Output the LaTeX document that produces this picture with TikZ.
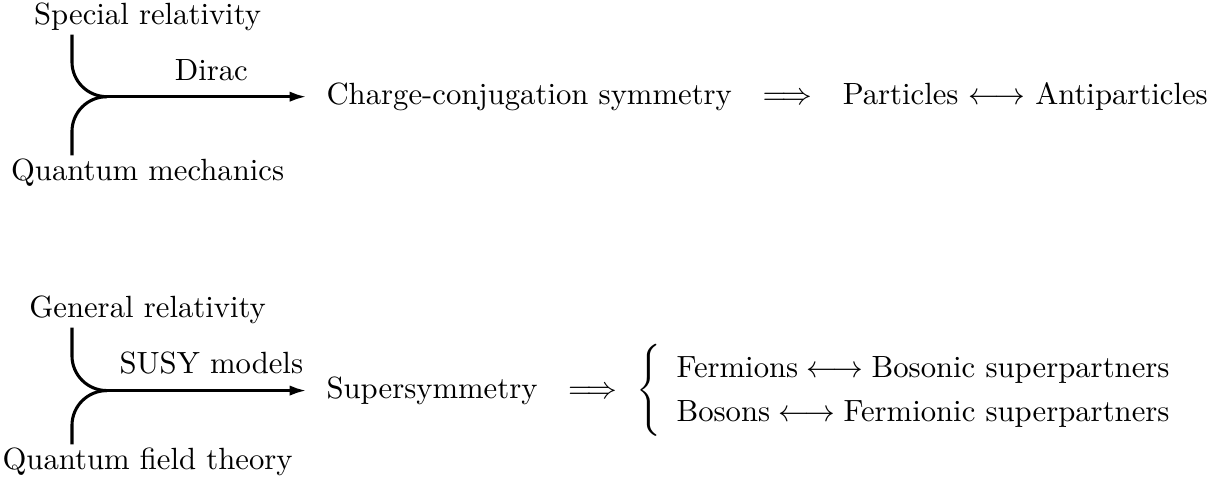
\documentclass[tikz,border=0pt]{standalone}
\usepackage{amsmath}
\usetikzlibrary{arrows.meta, positioning}
\tikzset{
  teoria/.style={anchor=base, inner ysep=1pt, align=center},
  resultado/.style={align=left},
  rama/.style={line width=1pt},
  flujo/.style={-{Latex[length=5.5pt,width=3.4pt]}, line width=1pt, shorten >=3pt},
  etiqueta/.style={above=1.6pt, text depth=0pt},
}
\begin{document}
\begin{tikzpicture}[node distance=2.39cm]
    \useasboundingbox (0,0) rectangle (13.9,5.56);

    % Dirac: relatividad especial + mecanica cuantica
    \coordinate (union1) at (1.225,4.453);
    \coordinate (eje1) at (0.824,4.453);
    \node[teoria] (sr) at (1.69,5.277) {Special relativity};
    \node[teoria] (qm) at (1.69,3.492) {Quantum mechanics};
    \node[resultado, right=of union1] (ccs) {Charge-conjugation symmetry\quad$\Longrightarrow$\quad Particles $\longleftrightarrow$ Antiparticles};

    \draw[rama] (sr.south -| eje1) -- ([yshift=4mm]eje1) to[out=-90,in=180] (union1);
    \draw[rama] (qm.north -| eje1) -- ([yshift=-4mm]eje1) to[out=90,in=180] (union1);
    \draw[flujo] (union1) -- node[etiqueta] {Dirac} (ccs.west);

    % SUSY: relatividad general + teoria cuantica de campos
    \coordinate (union2) at (1.225,1.088);
    \coordinate (eje2) at (0.824,1.088);
    \node[teoria] (gr) at (1.69,1.923) {General relativity};
    \node[teoria] (qft) at (1.69,0.183) {Quantum field theory};
    \node[resultado, right=of union2] (susy) {\renewcommand{\arraystretch}{1.2}%
      Supersymmetry\quad$\Longrightarrow\ \left\{\begin{array}{l}
        \text{Fermions} \longleftrightarrow \text{Bosonic superpartners}\\
        \text{Bosons} \longleftrightarrow \text{Fermionic superpartners}
      \end{array}\right.$};

    \draw[rama] (gr.south -| eje2) -- ([yshift=4mm]eje2) to[out=-90,in=180] (union2);
    \draw[rama] (qft.north -| eje2) -- ([yshift=-4mm]eje2) to[out=90,in=180] (union2);
    \draw[flujo] (union2) -- node[etiqueta] {SUSY models} (susy.west);
\end{tikzpicture}
\end{document}
